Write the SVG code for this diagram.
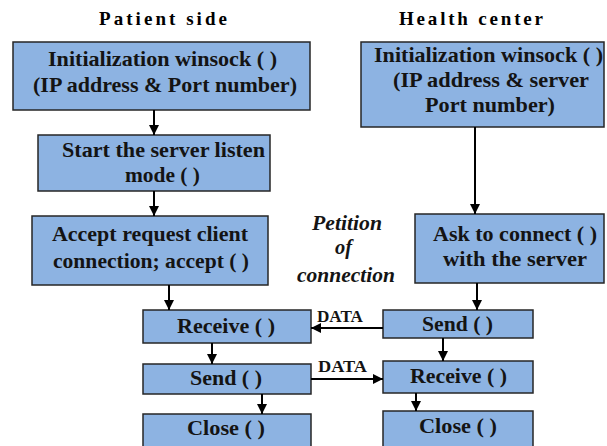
<svg xmlns="http://www.w3.org/2000/svg" width="607" height="446" viewBox="0 0 607 446">
<defs>
<marker id="ah" viewBox="0 0 10 10" refX="10" refY="5" markerWidth="5" markerHeight="5" orient="auto" markerUnits="strokeWidth">
<path d="M0,0 L10,5 L0,10 Z" fill="#000"/>
</marker>
<style>
.box{fill:#8DB3E2;stroke:#262626;stroke-width:1.5}
.c{stroke:#000;stroke-width:2;fill:none;marker-end:url(#ah)}
</style>
</defs>
<rect width="607" height="446" fill="#fff"/>
<text x="99" y="25" font-family="Liberation Serif" font-weight="bold" font-size="19" fill="#000" textLength="128">Patient side</text>
<text x="399" y="25" font-family="Liberation Serif" font-weight="bold" font-size="19" fill="#000" textLength="144">Health center</text>
<g id="p_init">
<rect class="box" x="13" y="42" width="297" height="68"/>
<text x="48" y="66" font-family="Liberation Serif" font-weight="bold" font-size="21" fill="#141414" textLength="229" lengthAdjust="spacingAndGlyphs">Initialization winsock ( )</text>
<text x="33" y="92" font-family="Liberation Serif" font-weight="bold" font-size="21" fill="#141414" textLength="264" lengthAdjust="spacingAndGlyphs">(IP address &amp; Port number)</text>
</g>
<g id="p_listen">
<rect class="box" x="38" y="135" width="232" height="56"/>
<text x="62" y="157" font-family="Liberation Serif" font-weight="bold" font-size="21" fill="#141414" textLength="203" lengthAdjust="spacingAndGlyphs">Start the server listen</text>
<text x="125" y="182" font-family="Liberation Serif" font-weight="bold" font-size="21" fill="#141414" textLength="75" lengthAdjust="spacingAndGlyphs">mode ( )</text>
</g>
<g id="p_accept">
<rect class="box" x="32" y="216" width="236" height="69"/>
<text x="52" y="241" font-family="Liberation Serif" font-weight="bold" font-size="21" fill="#141414" textLength="196" lengthAdjust="spacingAndGlyphs">Accept request client</text>
<text x="53" y="268" font-family="Liberation Serif" font-weight="bold" font-size="21" fill="#141414" textLength="196" lengthAdjust="spacingAndGlyphs">connection; accept ( )</text>
</g>
<g id="p_receive">
<rect class="box" x="143" y="310" width="168" height="33"/>
<text x="177" y="333" font-family="Liberation Serif" font-weight="bold" font-size="21" fill="#141414" textLength="98" lengthAdjust="spacingAndGlyphs">Receive ( )</text>
</g>
<g id="p_send">
<rect class="box" x="143" y="364" width="168" height="30"/>
<text x="190" y="385" font-family="Liberation Serif" font-weight="bold" font-size="21" fill="#141414" textLength="72" lengthAdjust="spacingAndGlyphs">Send ( )</text>
</g>
<g id="p_close">
<rect class="box" x="143" y="414" width="168" height="34"/>
<text x="187" y="435" font-family="Liberation Serif" font-weight="bold" font-size="21" fill="#141414" textLength="78" lengthAdjust="spacingAndGlyphs">Close ( )</text>
</g>
<g id="h_init">
<rect class="box" x="361" y="42" width="243" height="85"/>
<text x="374" y="62" font-family="Liberation Serif" font-weight="bold" font-size="21" fill="#141414" textLength="229" lengthAdjust="spacingAndGlyphs">Initialization winsock ( )</text>
<text x="393" y="87" font-family="Liberation Serif" font-weight="bold" font-size="21" fill="#141414" textLength="196" lengthAdjust="spacingAndGlyphs">(IP address &amp; server</text>
<text x="425" y="112" font-family="Liberation Serif" font-weight="bold" font-size="21" fill="#141414" textLength="130" lengthAdjust="spacingAndGlyphs">Port number)</text>
</g>
<g id="h_ask">
<rect class="box" x="415" y="214" width="189" height="69"/>
<text x="433" y="241" font-family="Liberation Serif" font-weight="bold" font-size="21" fill="#141414" textLength="164" lengthAdjust="spacingAndGlyphs">Ask to connect ( )</text>
<text x="443" y="266" font-family="Liberation Serif" font-weight="bold" font-size="21" fill="#141414" textLength="144" lengthAdjust="spacingAndGlyphs">with the server</text>
</g>
<g id="h_send">
<rect class="box" x="383" y="310" width="150" height="28"/>
<text x="422" y="331" font-family="Liberation Serif" font-weight="bold" font-size="21" fill="#141414" textLength="71" lengthAdjust="spacingAndGlyphs">Send ( )</text>
</g>
<g id="h_receive">
<rect class="box" x="383" y="361" width="150" height="32"/>
<text x="410" y="383" font-family="Liberation Serif" font-weight="bold" font-size="21" fill="#141414" textLength="97" lengthAdjust="spacingAndGlyphs">Receive ( )</text>
</g>
<g id="h_close">
<rect class="box" x="383" y="411" width="150" height="37"/>
<text x="419" y="433" font-family="Liberation Serif" font-weight="bold" font-size="21" fill="#141414" textLength="78" lengthAdjust="spacingAndGlyphs">Close ( )</text>
</g>
<text x="312" y="230" font-family="Liberation Serif" font-weight="bold" font-style="italic" font-size="21" fill="#141414" textLength="70" lengthAdjust="spacingAndGlyphs">Petition</text>
<text x="335" y="254" font-family="Liberation Serif" font-weight="bold" font-style="italic" font-size="21" fill="#141414" textLength="17" lengthAdjust="spacingAndGlyphs">of</text>
<text x="297" y="282" font-family="Liberation Serif" font-weight="bold" font-style="italic" font-size="21" fill="#141414" textLength="98" lengthAdjust="spacingAndGlyphs">connection</text>
<g id="connectors">
<line class="c" x1="154" y1="110" x2="154" y2="135"/>
<line class="c" x1="154" y1="191" x2="154" y2="216"/>
<line class="c" x1="169" y1="285" x2="169" y2="310"/>
<line class="c" x1="212" y1="343" x2="212" y2="364"/>
<line class="c" x1="262" y1="394" x2="262" y2="414"/>
<line class="c" x1="475" y1="127" x2="475" y2="214"/>
<line class="c" x1="477" y1="283" x2="477" y2="310"/>
<line class="c" x1="443" y1="338" x2="443" y2="361"/>
<line class="c" x1="416" y1="393" x2="416" y2="411"/>
<line class="c" x1="383" y1="328" x2="311" y2="328"/>
<line class="c" x1="311" y1="379" x2="383" y2="379"/>
<text x="317" y="322" font-family="Liberation Serif" font-weight="bold" font-size="16" fill="#141414" textLength="46" lengthAdjust="spacingAndGlyphs">DATA</text>
<text x="318" y="372" font-family="Liberation Serif" font-weight="bold" font-size="16" fill="#141414" textLength="49" lengthAdjust="spacingAndGlyphs">DATA</text>
</g>
</svg>
